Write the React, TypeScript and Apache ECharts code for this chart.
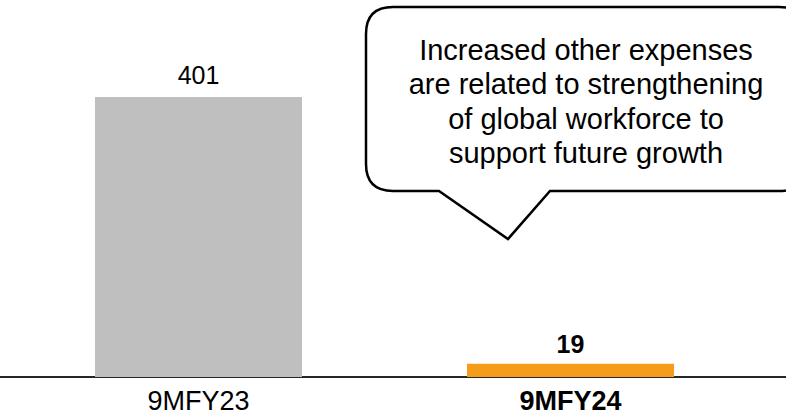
import React, { useEffect, useRef } from "react";
import * as echarts from "echarts";

// Period labels and other-expense values
const categories: string[] = ["9MFY23", "9MFY24"];
const values: number[] = [401, 19];
const highlighted: boolean[] = [false, true];
const barColors: string[] = ["#BFBFBF", "#F59D1A"];

const calloutLines: string[] = [
  "Increased other expenses",
  "are related to strengthening",
  "of global workforce to",
  "support future growth",
];

const FONT = '"Liberation Sans", Arial, Helvetica, sans-serif';

// Speech-bubble outline with its pointer tail
const CALLOUT_PATH =
  "M393,7 L779,7 Q806,7 806,34 L806,164 Q806,191 779,191 L550,191 L508,239 L439,191 L393,191 Q366,191 366,164 L366,34 Q366,7 393,7 Z";

let shapeRegistered = false;
function ensureShape() {
  if (shapeRegistered) return;
  echarts.graphic.registerShape("callout", echarts.graphic.extendPath(CALLOUT_PATH, {}) as any);
  shapeRegistered = true;
}

export default function App() {
  const ref = useRef<HTMLDivElement>(null);

  useEffect(() => {
    if (!ref.current) return;
    ensureShape();
    const chart = echarts.init(ref.current, undefined, { renderer: "svg" });

    const axisY = 377;

    chart.setOption({
      animation: false,
      backgroundColor: "#ffffff",
      grid: { left: 12.5, right: 29.5, top: 0, bottom: 415 - axisY },
      xAxis: {
        type: "category",
        data: categories.map((c, i) => ({
          value: c,
          textStyle: { fontWeight: highlighted[i] ? "bold" : "normal" },
        })),
        axisLine: { show: true, lineStyle: { color: "#262626", width: 2 } },
        axisTick: { show: false },
        axisLabel: { fontFamily: FONT, fontSize: 27, color: "#000000", margin: 10 },
      },
      yAxis: {
        type: "value",
        min: 0,
        max: 540,
        show: false,
        splitLine: { show: false },
      },
      series: [
        {
          type: "bar",
          barWidth: 207,
          data: values.map((v, i) => ({
            value: v,
            itemStyle: { color: barColors[i] },
            label: {
              show: true,
              position: "top",
              distance: highlighted[i] ? 7 : 10,
              fontFamily: FONT,
              fontSize: 25,
              color: "#000000",
              fontWeight: highlighted[i] ? "bold" : "normal",
            },
          })),
        },
      ],
      graphic: [
        {
          type: "line",
          z: -1,
          shape: { x1: 0, y1: axisY, x2: 786, y2: axisY },
          style: { stroke: "#262626", lineWidth: 2 },
        },
        {
          type: "callout",
          x: 0,
          y: 0,
          style: { fill: "#ffffff", stroke: "#000000", lineWidth: 2.5 },
        },
        {
          type: "text",
          x: 586,
          y: 101.5,
          style: {
            text: calloutLines.join("\n"),
            font: `29px ${FONT}`,
            fill: "#000000",
            align: "center",
            verticalAlign: "middle",
            lineHeight: 34.5,
          },
        },
      ],
    });

    return () => chart.dispose();
  }, []);

  return <div ref={ref} style={{ width: 786, height: 415, position: "absolute", left: 0, top: 0 }} />;
}
